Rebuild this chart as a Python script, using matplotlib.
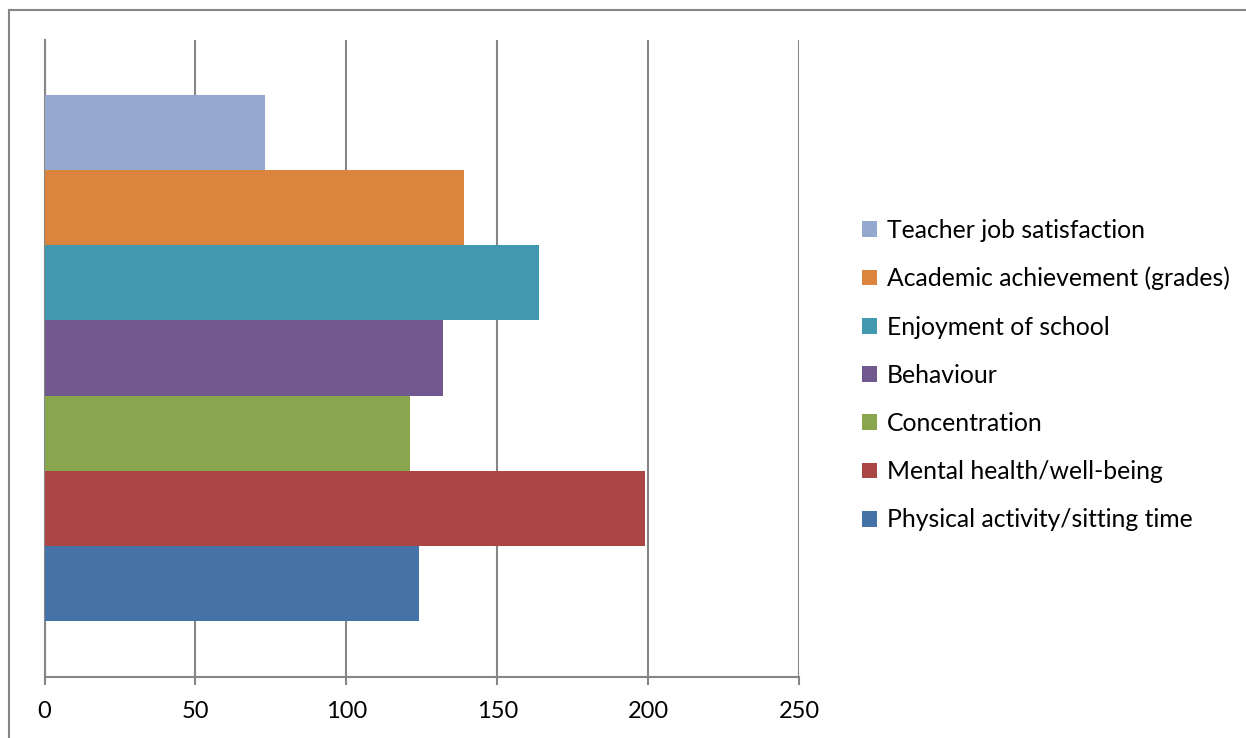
import matplotlib.pyplot as plt
from matplotlib.lines import Line2D

plt.rcParams["font.family"] = ["Lato", "DejaVu Sans"]

# series listed bottom to top, as in the chart
series = ["Physical activity/sitting time", "Mental health/well-being", "Concentration",
          "Behaviour", "Enjoyment of school", "Academic achievement (grades)",
          "Teacher job satisfaction"]
values = [124, 199, 121, 132, 164, 139, 73]
colors = ["#4572A7", "#AA4643", "#89A54E", "#71588F", "#4198AF", "#DB843D", "#95A9D0"]
xticks = [0, 50, 100, 150, 200, 250]

grey = "#868686"

fig = plt.figure(figsize=(12.46, 7.38), dpi=100)
ax = fig.add_axes([44.5 / 1246, 61 / 738, 754.5 / 1246, 637 / 738])

bars = []
for i, (name, v, c) in enumerate(zip(series, values, colors)):
    b = ax.barh(i, v, height=1.0, color=c, label=name, zorder=3)
    bars.append(b)

ax.set_xlim(0, 250)
ax.set_ylim(-1.245, 7.23)
ax.set_xticks(xticks)
ax.set_xticklabels([str(t) for t in xticks])
ax.set_yticks([])
ax.tick_params(axis="x", direction="out", length=6, width=1.5, color=grey,
               labelsize=17, pad=11, labelcolor="black")
ax.grid(axis="x", color=grey, linewidth=1.5, zorder=0)
ax.set_axisbelow(True)
for s in ["top", "right"]:
    ax.spines[s].set_visible(False)
for s in ["left", "bottom"]:
    ax.spines[s].set_color(grey)
    ax.spines[s].set_linewidth(1.5)

handles = bars[::-1]
labels = series[::-1]
fig.legend(handles, labels, loc="center left", bbox_to_anchor=(852 / 1246, 1 - 375 / 738),
           frameon=False, fontsize=17.8, handlelength=0.6, handleheight=0.6,
           handletextpad=0.4, labelspacing=1.02, borderaxespad=0)

# chart area border (top and left edges visible)
fig.add_artist(Line2D([9 / 1246, 1], [1 - 10 / 738, 1 - 10 / 738], color=grey, linewidth=1.5,
                      transform=fig.transFigure))
fig.add_artist(Line2D([9 / 1246, 9 / 1246], [0, 1 - 10 / 738], color=grey, linewidth=1.5,
                      transform=fig.transFigure))

fig.savefig("out.png", dpi=100)
